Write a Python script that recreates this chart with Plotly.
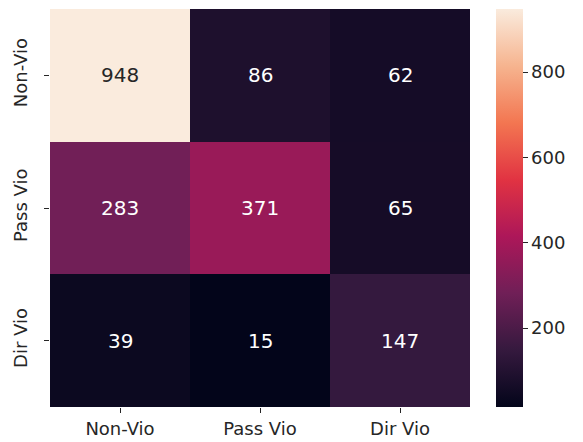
import plotly.graph_objects as go

labels = ["Non-Vio", "Pass Vio", "Dir Vio"]
values = [
    [948, 86, 62],
    [283, 371, 65],
    [39, 15, 147],
]
cbar_ticks = [200, 400, 600, 800]

rocket = [
    [0.0, "#03051A"],
    [0.143, "#35193E"],
    [0.286, "#701F57"],
    [0.429, "#AD1759"],
    [0.571, "#E13342"],
    [0.714, "#F37651"],
    [0.857, "#F6B48F"],
    [1.0, "#FAEBDD"],
]

zmin = min(min(r) for r in values)
zmax = max(max(r) for r in values)
FONT = "DejaVu Sans"

fig = go.Figure(go.Heatmap(
    z=values, x=labels, y=labels,
    colorscale=rocket, zmin=zmin, zmax=zmax,
    xgap=0, ygap=0,
    colorbar=dict(
        x=1.062, xanchor="left", xref="paper",
        y=0.5, yanchor="middle", len=1.0, lenmode="fraction",
        thickness=27, outlinewidth=0, xpad=0, ypad=0,
        tickvals=cbar_ticks, ticks="outside", ticklen=5, tickwidth=1.3,
        tickcolor="#262626",
        tickfont=dict(family=FONT, size=18, color="#262626"),
    ),
    hoverinfo="skip",
))

annotations = []
for i, row in enumerate(values):
    for j, v in enumerate(row):
        annotations.append(dict(
            x=labels[j], y=labels[i], xref="x", yref="y",
            text=str(v), showarrow=False,
            font=dict(family=FONT, size=20,
                      color="#262626" if v > 700 else "white"),
        ))

# page body has an 8px margin, so the figure is sized 575x434
fig.update_layout(
    width=575, height=434,
    margin=dict(l=42, r=113, t=1, b=35),
    paper_bgcolor="white", plot_bgcolor="white",
    annotations=annotations,
    xaxis=dict(
        automargin=False,
        ticks="outside", ticklen=5, tickwidth=1.3, tickcolor="#262626",
        tickfont=dict(family=FONT, size=18, color="#262626"),
        showgrid=False, zeroline=False, showline=False,
    ),
    yaxis=dict(
        automargin=False,
        autorange="reversed", tickangle=-90,
        ticks="outside", ticklen=5, tickwidth=1.3, tickcolor="#262626",
        ticklabelstandoff=10,
        tickfont=dict(family=FONT, size=18, color="#262626"),
        showgrid=False, zeroline=False, showline=False,
    ),
)

fig.write_html("out.html")
